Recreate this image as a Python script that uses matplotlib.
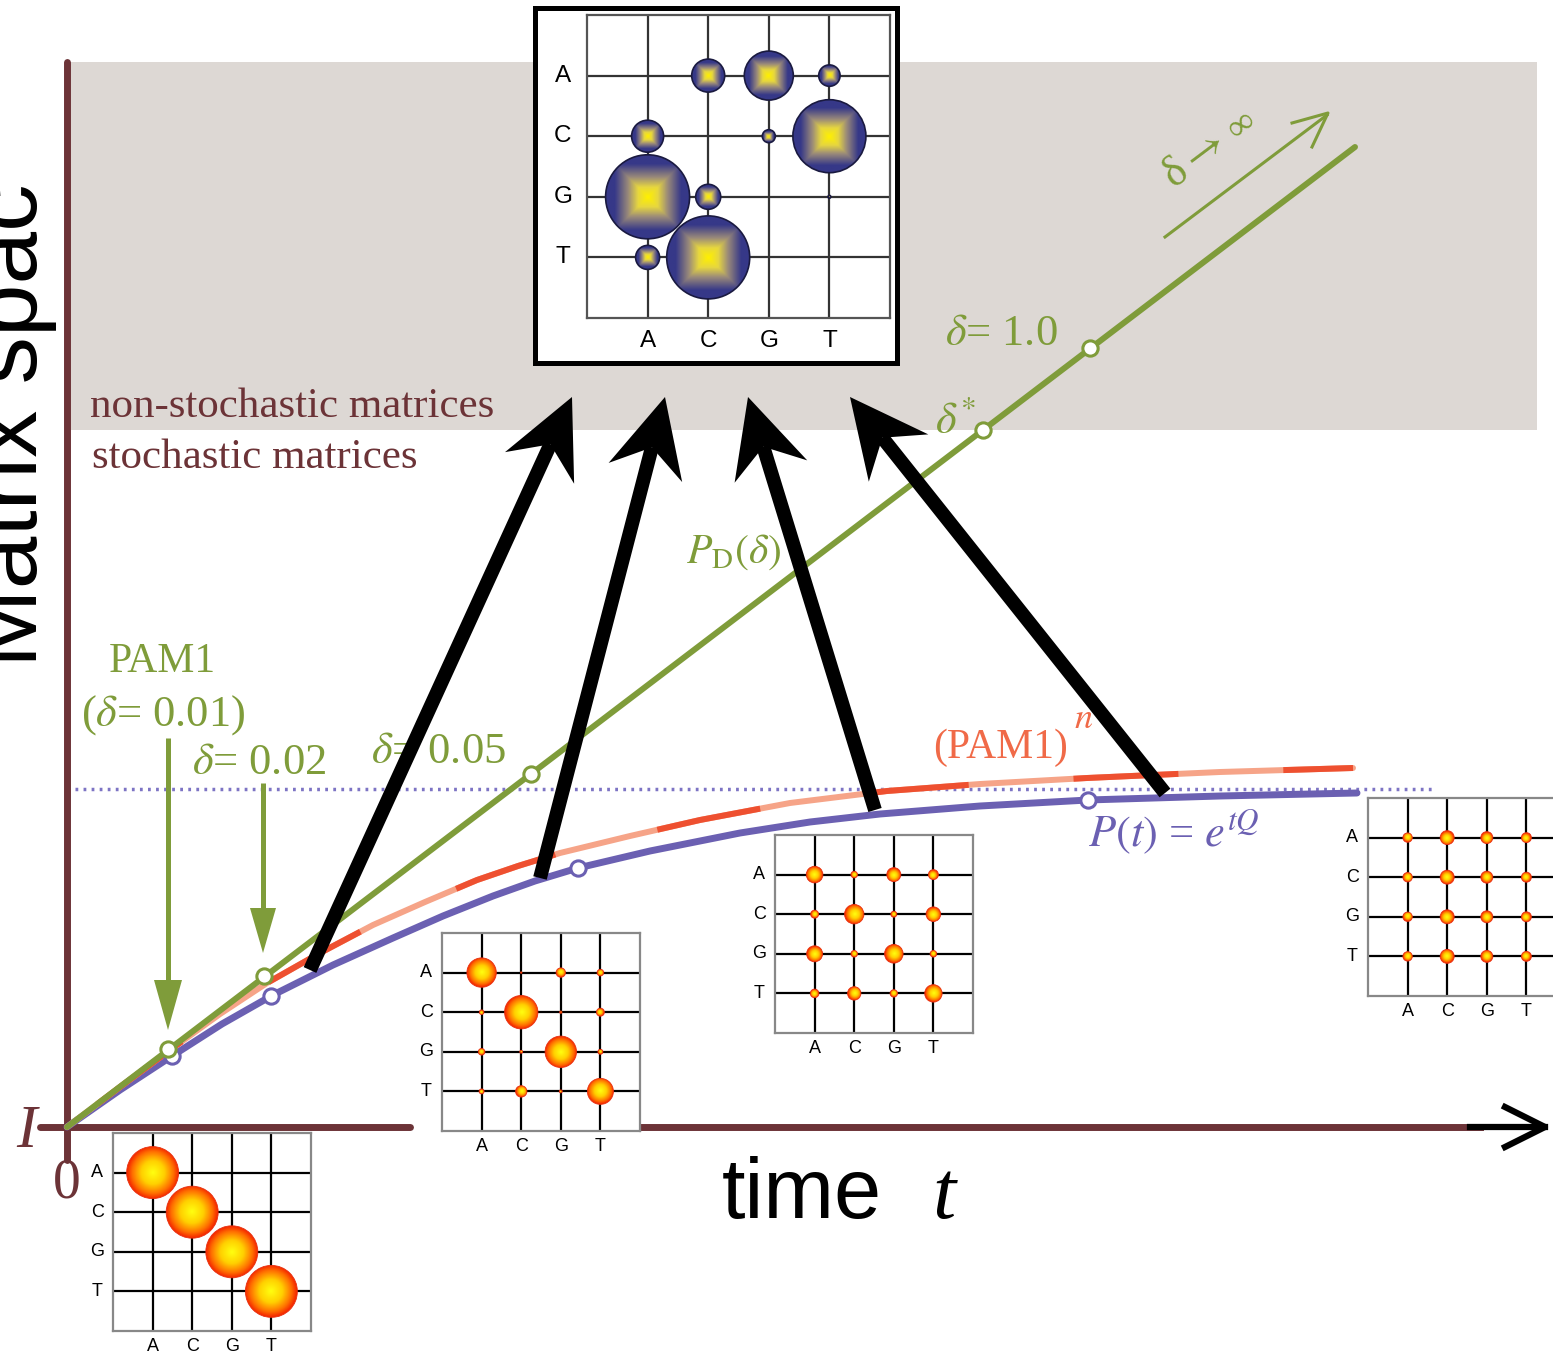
import numpy as np
import matplotlib.pyplot as plt
from matplotlib.patches import Circle, Rectangle, Polygon
from matplotlib.colors import LinearSegmentedColormap

plt.rcParams['mathtext.fontset'] = 'stix'
plt.rcParams['lines.scale_dashes'] = False

W, H = 1553, 1359
SERIF = 'Liberation Serif'
SANS = 'Liberation Sans'

maroon = '#6C3337'
green = '#7F9C3A'
red = '#EE5030'
salmon = '#F6A488'
purple = '#6B60B2'

# ---- curves (picture coords, y down) ----
pd_t = [67, 1355]
pd_y = [1127, 147]
pd_mark_t = [168, 264, 531, 983, 1090]
pd_mark_y = [1049, 976, 774, 430, 348]

pam_t = [67, 120, 170, 220, 267, 320, 373, 425, 477, 518, 560, 630, 700, 790, 887, 980, 1087, 1220, 1353]
pam_y = [1127, 1087, 1050, 1014, 983, 953, 925, 902, 880, 866, 853, 836, 820, 803, 791, 784, 778, 772, 768]

ptq_t = [67, 120, 172, 222, 273, 333, 393, 443, 493, 535, 578, 650, 740, 810, 880, 980, 1088, 1220, 1357]
ptq_y = [1127, 1090, 1056, 1024, 995, 965, 938, 916, 896, 881, 868, 851, 833, 822, 814, 806, 800, 796, 793]
ptq_mark_t = [172, 271, 578, 1088]
ptq_mark_y = [1056, 996, 868, 800]

limit_y = 789

# ---- matrices (circle radius in px) ----
bases = ['A', 'C', 'G', 'T']
m_identity = [[26, 0, 0, 0],
              [0, 26, 0, 0],
              [0, 0, 26, 0],
              [0, 0, 0, 26]]
m_short = [[14.7, 0.8, 4.7, 3.3],
           [2.3, 16.7, 1.2, 4.0],
           [3.3, 1.5, 15.7, 2.5],
           [2.5, 5.7, 1.5, 13.0]]
m_mid = [[8.3, 3.3, 7.0, 5.0],
         [4.0, 9.7, 3.0, 7.3],
         [8.0, 3.3, 9.3, 3.3],
         [4.3, 6.7, 3.7, 8.7]]
m_long = [[4.7, 7.0, 6.0, 5.0],
          [4.7, 7.0, 6.0, 5.0],
          [4.7, 7.0, 6.0, 5.0],
          [4.7, 7.0, 6.0, 5.0]]
m_nonstoch = [[0, 16.5, 24.5, 10.7],
              [16, 0, 6.5, 36.5],
              [42, 12.5, 0, 1.4],
              [12, 41.5, 0, 0]]

# arrows from curve points to the non-stochastic matrix
big_tails = [(310, 970), (540, 878), (875, 810), (1165, 793)]
big_tips = [(572, 397), (665, 397), (748, 397), (850, 397)]

orange_cmap = LinearSegmentedColormap.from_list(
    'orange', [(0, '#FFFF10'), (0.45, '#FFD000'), (0.8, '#FF7000'), (1, '#F52A00')])
blue_cmap = LinearSegmentedColormap.from_list(
    'blue', [(0, '#FFF000'), (0.3, '#E6D640'), (0.6, '#9A8A7A'), (1, '#363888')])


def ball(ax, x, y, r, cmap, square, edge, lw, vmax):
    g = np.linspace(-1, 1, 64)
    X, Y = np.meshgrid(g, g)
    d = np.maximum(np.abs(X), np.abs(Y)) if square else np.hypot(X, Y)
    im = ax.imshow(d, cmap=cmap, vmin=0, vmax=vmax, extent=(x - r, x + r, y + r, y - r),
                   interpolation='bilinear', aspect='auto', zorder=3)
    c = Circle((x, y), r, fc='none', ec=edge, lw=lw, zorder=4)
    ax.add_patch(c)
    im.set_clip_path(c)


def draw_matrix(x0, y0, w, radii, big=False):
    ax = fig.add_axes([x0 / W, 1 - (y0 + w) / H, w / W, w / H])
    ax.set_facecolor('white')
    ax.set_xticks([])
    ax.set_yticks([])
    for s in ax.spines.values():
        s.set_color('#555555' if big else '#888888')
        s.set_linewidth(1.6)
    gcol = '#333333' if big else 'black'
    for k in range(1, 5):
        ax.axhline(k, color=gcol, lw=1.6, zorder=1)
        ax.axvline(k, color=gcol, lw=1.6, zorder=1)
    unit = w / 5.0
    for i, row in enumerate(radii):
        for j, r in enumerate(row):
            if r <= 0:
                continue
            if big:
                ball(ax, j + 1, i + 1, r / unit, blue_cmap, True, '#1A1A40', 1.2, 0.8)
            else:
                ball(ax, j + 1, i + 1, r / unit, orange_cmap, False, '#E83010', 0.6, 1.0)
    fs = 17.5 if big else 13
    for k, b in enumerate(bases):
        ax.text(-0.4, k + 1, b, ha='center', va='center', fontsize=fs, family=SANS, clip_on=False)
        ax.text(k + 1, 5.38, b, ha='center', va='center', fontsize=fs, family=SANS, clip_on=False)
    ax.set_xlim(0, 5)
    ax.set_ylim(5, 0)
    return ax


def fat_arrow(ax, start, tip, lw, L, Wd, N, color, z):
    s = np.array(start, float)
    t = np.array(tip, float)
    u = (t - s) / np.linalg.norm(t - s)
    n = np.array([-u[1], u[0]])
    neck = t - N * u
    ax.plot([s[0], neck[0]], [s[1], neck[1]], color=color, lw=lw, solid_capstyle='butt', zorder=z)
    head = [t, t - L * u + Wd * n, neck, t - L * u - Wd * n]
    ax.add_patch(Polygon(head, closed=True, fc=color, ec='none', zorder=z))


fig = plt.figure(figsize=(W / 100, H / 100), dpi=100)
ax = fig.add_axes([0, 0, 1, 1])
ax.set_xlim(0, W)
ax.set_ylim(H, 0)
ax.axis('off')

# non-stochastic region
ax.add_patch(Rectangle((70, 62), 1467, 368, fc='#DDD8D4', ec='none', zorder=0))

# axes
ax.plot([67, 67], [62, 1160], color=maroon, lw=5, solid_capstyle='round', zorder=2)
ax.plot([40, 410], [1127, 1127], color=maroon, lw=5, solid_capstyle='round', zorder=2)
ax.plot([643, 1480], [1127, 1127], color=maroon, lw=5, zorder=2)
ax.plot([1470, 1545], [1127, 1127], color='black', lw=4.5, zorder=2)
ax.plot([1505, 1545, 1505], [1107, 1127, 1147], color='black', lw=4.5, zorder=2)

ax.plot([75, 1435], [limit_y, limit_y], color='#7D74C4', lw=2.5, dashes=(2, 3.8), zorder=1)

# curves
ax.plot(ptq_t, ptq_y, color=purple, lw=5, solid_capstyle='round', solid_joinstyle='round', zorder=3)
ax.plot(pam_t, pam_y, color=salmon, lw=4.3, solid_capstyle='round', solid_joinstyle='round', zorder=4)
ax.plot(pam_t, pam_y, color=red, lw=4.3, linestyle=(123.8, (75.6, 75.6)), zorder=4)
ax.plot(pd_t, pd_y, color=green, lw=4.3, solid_capstyle='round', zorder=5)
ax.plot(ptq_mark_t, ptq_mark_y, 'o', ms=11, mfc='white', mec=purple, mew=2.2, zorder=6)
ax.plot(pd_mark_t, pd_mark_y, 'o', ms=11, mfc='white', mec=green, mew=2.2, zorder=6)

# green pointer arrows
fat_arrow(ax, (168, 738), (168, 1030), 3.6, 50, 14, 50, green, 5)
fat_arrow(ax, (263, 783), (263, 953), 3.6, 45, 13, 45, green, 5)

# delta -> infinity
ax.plot([1165, 1327], [237, 115], color=green, lw=2.2, zorder=5)
ax.plot([1292, 1328, 1312], [123, 113, 147], color=green, lw=2.2, zorder=5)
ax.text(1194, 160, r'δ$\rightarrow$', rotation=37, color=green, fontsize=32, family=SERIF,
        ha='center', va='center', zorder=6)
ax.text(1242, 126, '∞', rotation=37, color=green, fontsize=27, family=SERIF,
        ha='center', va='center', zorder=6)

# labels
ax.text(90, 417, 'non-stochastic matrices', color=maroon, fontsize=31, family=SERIF, va='baseline', zorder=6)
ax.text(92, 468, 'stochastic matrices', color=maroon, fontsize=31, family=SERIF, va='baseline', zorder=6)
ax.text(162, 672, 'PAM1', color=green, fontsize=30, family=SERIF, ha='center', va='baseline', zorder=6)
ax.text(163, 726, r'($\delta$= 0.01)', color=green, fontsize=32, family=SERIF, ha='center', va='baseline', zorder=6)
ax.text(259, 774, r'$\delta$= 0.02', color=green, fontsize=32, family=SERIF, ha='center', va='baseline', zorder=6)
ax.text(438, 763, r'$\delta$= 0.05', color=green, fontsize=32, family=SERIF, ha='center', va='baseline', zorder=6)
ax.text(1001, 345, r'$\delta$= 1.0', color=green, fontsize=32, family=SERIF, ha='center', va='baseline', zorder=6)
ax.text(935, 433, r'$\delta^{*}$', color=green, fontsize=32, ha='left', va='baseline', zorder=6)
ax.text(734, 563, r'$P_{\mathrm{D}}(\delta)$', color=green, fontsize=30, ha='center', va='baseline', zorder=6)
ax.text(933, 758, '(PAM1)', color='#F06A48', fontsize=30, family=SERIF, ha='left', va='baseline', zorder=6)
ax.text(1074, 728, r'$n$', color='#F06A48', fontsize=26, ha='left', va='baseline', zorder=6)
ax.text(1088, 847, r'$P(t)$ = $e^{tQ}$', color=purple, fontsize=32, family=SERIF, ha='left', va='baseline', zorder=6)

ax.text(26, 1147, 'I', color=maroon, fontsize=44, family=SERIF, style='italic', ha='center', va='baseline', zorder=6)
ax.text(67, 1198, '0', color=maroon, fontsize=40, family=SERIF, ha='center', va='baseline', zorder=6)
ax.text(722, 1218, 'time', color='black', fontsize=61, family=SANS, ha='left', va='baseline', zorder=6)
ax.text(944, 1218, 't', color='black', fontsize=60, family=SERIF, style='italic', ha='center', va='baseline', zorder=6)
ax.text(57, 425, 'Matrix spac', color='black', fontsize=68, family=SANS, rotation=90,
        ha='right', va='center', zorder=6)

# big arrows
for tail, tip in zip(big_tails, big_tips):
    fat_arrow(ax, tail, tip, 10, 78, 38, 52, 'black', 8)

# frame around the non-stochastic matrix
frame = fig.add_axes([535 / W, 1 - 363 / H, 362 / W, 355 / H])
frame.set_facecolor('white')
frame.set_xticks([])
frame.set_yticks([])
for s in frame.spines.values():
    s.set_linewidth(3.6)
    s.set_color('black')

draw_matrix(587, 15, 303, m_nonstoch, big=True)
draw_matrix(113, 1133, 198, m_identity)
draw_matrix(442, 933, 198, m_short)
draw_matrix(775, 835, 198, m_mid)
draw_matrix(1368, 798, 198, m_long)

fig.savefig('out.png', dpi=100)
